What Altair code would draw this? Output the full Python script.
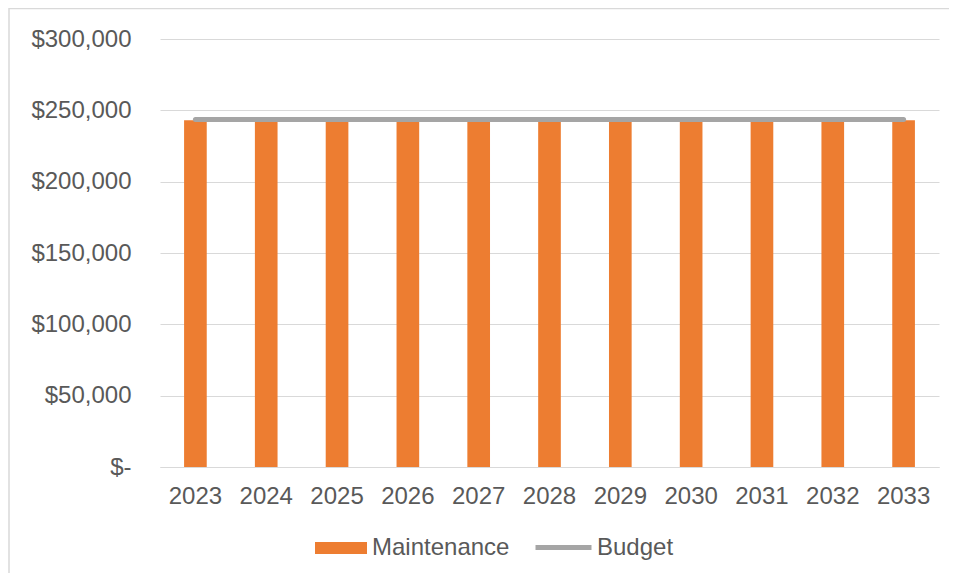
import altair as alt
import pandas as pd

years = ["2023", "2024", "2025", "2026", "2027", "2028", "2029", "2030", "2031", "2032", "2033"]
maintenance = [243000, 243000, 243000, 243000, 243000, 243000, 243000, 243000, 243000, 243000, 243000]
budget = [243500, 243500, 243500, 243500, 243500, 243500, 243500, 243500, 243500, 243500, 243500]

df = pd.DataFrame({
    "year": years,
    "maintenance": maintenance,
    "budget": budget,
    "s1": ["Maintenance"] * len(years),
    "s2": ["Budget"] * len(years),
})

FONT = "Liberation Sans"
TXT = "#595959"
GRID = "#D9D9D9"

x = alt.X("year:N", title=None,
          scale=alt.Scale(paddingInner=0.68, paddingOuter=0.34),
          axis=alt.Axis(labelAngle=0, ticks=False, domainColor=GRID, labelPadding=17,
                        labelFontSize=24, labelFont=FONT, labelColor=TXT))

bars = alt.Chart(df).mark_bar(color="#ED7D31").encode(
    x=x,
    y=alt.Y("maintenance:Q", title=None,
            scale=alt.Scale(domain=[0, 300000]),
            axis=alt.Axis(values=[0, 50000, 100000, 150000, 200000, 250000, 300000],
                          labelExpr="datum.value == 0 ? '$-' : '$' + format(datum.value, ',')",
                          domain=False, ticks=False, gridColor=GRID, labelPadding=29,
                          labelFontSize=24, labelFont=FONT, labelColor=TXT)),
    fill=alt.Fill("s1:N", scale=alt.Scale(domain=["Maintenance"], range=["#ED7D31"]),
                  legend=alt.Legend(title=None, orient="none", legendX=155, legendY=483,
                                    symbolType="M-1,-0.23H1V0.23H-1Z", symbolSize=2704,
                                    symbolStrokeWidth=0, labelOffset=5, padding=0,
                                    labelFontSize=24, labelFont=FONT, labelColor=TXT)),
)

line = alt.Chart(df).mark_line(strokeWidth=5, strokeCap="round").encode(
    x=alt.X("year:N"),
    y=alt.Y("budget:Q"),
    stroke=alt.Stroke("s2:N", scale=alt.Scale(domain=["Budget"], range=["#A5A5A5"]),
                      legend=alt.Legend(title=None, orient="none", legendX=373, legendY=478,
                                        symbolType="stroke", symbolSize=3136,
                                        symbolStrokeWidth=5, labelOffset=3, padding=0,
                                        labelFontSize=24, labelFont=FONT, labelColor=TXT)),
)

border = alt.Chart(alt.Data(values=[{"a": 1}])).mark_rect(
    fill="transparent", stroke=GRID, strokeWidth=1.5
).encode(
    x=alt.value(-151), x2=alt.value(820), y=alt.value(-30.5), y2=alt.value(600)
)

chart = alt.layer(border, bars, line).properties(
    width=779, height=428,
    autosize=alt.AutoSizeParams(type="none"),
    padding={"left": 152, "top": 31, "right": 10, "bottom": 106},
).configure(font=FONT, background="white").configure_view(stroke="transparent", strokeWidth=0)

chart.save("out.html", embed_options={"renderer": "svg", "actions": False})
